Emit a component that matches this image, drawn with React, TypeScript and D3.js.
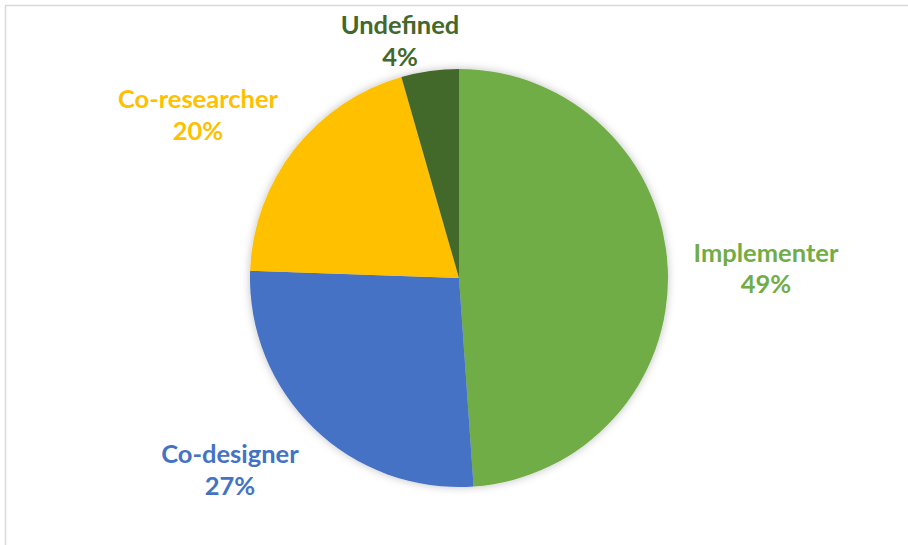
import React from "react";
import * as d3 from "d3";

const categories = ["Implementer", "Co-designer", "Co-researcher", "Undefined"];
const counts = [22, 12, 9, 2];
const percentLabels = ["49%", "27%", "20%", "4%"];
const colors = ["#70AD47", "#4472C4", "#FFC000", "#43682B"];
const labelPositions = [
  { x: 766, y1: 262, y2: 293 },
  { x: 230, y1: 463, y2: 495 },
  { x: 198, y1: 108, y2: 140 },
  { x: 400, y1: 34, y2: 66 },
];

export default function App() {
  const W = 908;
  const H = 545;
  const cx = 459;
  const cy = 278;
  const r = 209;
  const pie = d3.pie<number>().sort(null).value((d) => d);
  const arcs = pie(counts);
  const arcGen = d3.arc<d3.PieArcDatum<number>>().innerRadius(0).outerRadius(r);
  const font = "Lato, 'Open Sans', sans-serif";
  return (
    <svg
      width={W}
      height={H}
      style={{ position: "fixed", left: 0, top: 0, background: "#fff" }}
    >
      <defs>
        <filter id="sh" x="-20%" y="-20%" width="140%" height="140%">
          <feDropShadow dx="0" dy="0" stdDeviation="4" floodColor="#000" floodOpacity="0.25" />
        </filter>
      </defs>
      <rect x={5.5} y={5.5} width={W + 10} height={H + 10} fill="#fff" stroke="#d9d9d9" strokeWidth={1.5} />
      <g transform={`translate(${cx},${cy})`} filter="url(#sh)">
        {arcs.map((a, i) => (
          <path key={categories[i]} d={arcGen(a) || ""} fill={colors[i]} />
        ))}
      </g>
      {categories.map((c, i) => (
        <g key={c} fontFamily={font} fontWeight={700} fontSize={25.5} fill={colors[i]} textAnchor="middle">
          <text x={labelPositions[i].x} y={labelPositions[i].y1}>{c}</text>
          <text x={labelPositions[i].x} y={labelPositions[i].y2}>{percentLabels[i]}</text>
        </g>
      ))}
    </svg>
  );
}
